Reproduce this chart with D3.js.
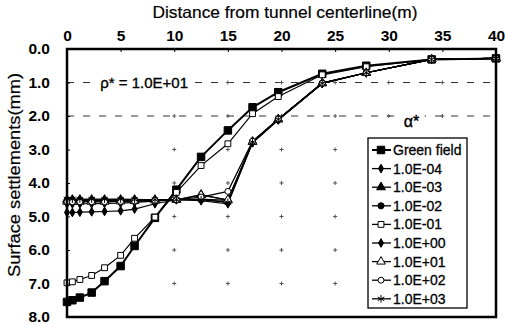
<!DOCTYPE html>
<html><head><meta charset="utf-8">
<script src="https://cdn.jsdelivr.net/npm/d3@7"></script>
<style>body{margin:0;background:#fff}svg{display:block}</style>
</head><body><div id="chart"></div>
<script>
const xValues = [0, 0.5, 1.2, 2.3, 3.5, 5, 6.3, 8.2, 10.2, 12.5, 15, 17.3, 19.7, 23.8, 27.9, 34, 40];
const greenField = [7.55, 7.5, 7.42, 7.27, 6.93, 6.48, 5.88, 5.04, 4.2, 3.22, 2.43, 1.74, 1.29, 0.74, 0.5, 0.31, 0.28];
const s1e_04 = [4.88, 4.88, 4.87, 4.86, 4.85, 4.83, 4.78, 4.62, 4.5, 4.48, 4.52, 2.79, 2.11, 1.03, 0.71, 0.31, 0.28];
const s1e_03 = [4.5, 4.5, 4.5, 4.5, 4.5, 4.5, 4.5, 4.5, 4.5, 4.35, 4.52, 2.77, 2.1, 1.02, 0.71, 0.31, 0.28];
const s1e_02 = [4.52, 4.52, 4.52, 4.52, 4.52, 4.52, 4.52, 4.51, 4.5, 4.5, 4.56, 2.78, 2.1, 1.02, 0.71, 0.31, 0.28];
const s1e_01 = [6.98, 6.95, 6.88, 6.76, 6.53, 6.16, 5.65, 5.02, 4.28, 3.48, 2.83, 1.93, 1.42, 0.77, 0.53, 0.31, 0.28];
const s1e00 = [4.62, 4.62, 4.62, 4.62, 4.61, 4.6, 4.58, 4.54, 4.5, 4.53, 4.62, 2.8, 2.12, 1.03, 0.71, 0.31, 0.28];
const s1e01 = [4.56, 4.56, 4.56, 4.56, 4.56, 4.55, 4.54, 4.52, 4.5, 4.36, 4.5, 2.77, 2.1, 1.02, 0.71, 0.31, 0.28];
const s1e02 = [4.56, 4.56, 4.56, 4.56, 4.56, 4.55, 4.54, 4.52, 4.5, 4.42, 4.25, 2.75, 2.09, 1.02, 0.71, 0.31, 0.28];
const s1e03 = [4.48, 4.48, 4.48, 4.48, 4.48, 4.48, 4.49, 4.5, 4.5, 4.5, 4.58, 2.78, 2.1, 1.02, 0.71, 0.31, 0.28];
const seriesNames = ["Green field", "1.0E-04", "1.0E-03", "1.0E-02", "1.0E-01", "1.0E+00", "1.0E+01", "1.0E+02", "1.0E+03"];
const xTicks = [0, 5, 10, 15, 20, 25, 30, 35, 40];
const yTicks = [0, 1, 2, 3, 4, 5, 6, 7, 8];

const W = 505, H = 325;
const m = {left: 67, right: 9, top: 49, bottom: 8};
const svg = d3.select("#chart").append("svg").attr("width", W).attr("height", H);
const x = d3.scaleLinear().domain([0, 40]).range([m.left, W - m.right]);
const y = d3.scaleLinear().domain([0, 8]).range([m.top, H - m.bottom]);
const font = "Liberation Sans, Arial, sans-serif";

const dataSets = [greenField, s1e_04, s1e_03, s1e_02, s1e_01, s1e00, s1e01, s1e02, s1e03];
const styles = [
  {sym: d3.symbolSquare, size: 56, fill: "#000", w: 2},
  {sym: d3.symbolDiamond, size: 22, fill: "#000", w: 1.2},
  {sym: d3.symbolTriangle, size: 34, fill: "#000", w: 1.2},
  {sym: d3.symbolCircle, size: 30, fill: "#000", w: 1.2},
  {sym: d3.symbolSquare, size: 34, fill: "#fff", w: 1.2},
  {sym: d3.symbolDiamond, size: 22, fill: "#000", w: 1.2},
  {sym: d3.symbolTriangle, size: 32, fill: "#fff", w: 1.2},
  {sym: d3.symbolCircle, size: 28, fill: "#fff", w: 1.2},
  {sym: d3.symbolAsterisk, size: 40, fill: "none", w: 1.2}
];

// grid: dashed lines at 1.0 and 2.0, plus small crosses
const g = svg.append("g");
[1, 2].forEach(v => {
  g.append("line").attr("x1", x(0)).attr("x2", x(40)).attr("y1", y(v)).attr("y2", y(v))
    .attr("stroke", "#333").attr("stroke-width", 1).attr("stroke-dasharray", "7,9");
});
const plusX = [10, 15, 20, 25, 30, 35];
const plusY = [1, 2, 3, 4, 5, 6, 7];
plusX.forEach(px => plusY.forEach(py => {
  g.append("path").attr("d", `M${x(px)-2},${y(py)}h4M${x(px)},${y(py)-2}v4`)
    .attr("stroke", "#555").attr("stroke-width", 1);
}));

// annotations
const ann1 = svg.append("g");
ann1.append("rect").attr("x", x(2.9)).attr("y", y(1) - 8).attr("width", 93).attr("height", 16).attr("fill", "#fff");
ann1.append("text").attr("x", x(3.1)).attr("y", y(1)).attr("dy", "0.35em")
  .attr("font-family", font).attr("font-size", 15).attr("stroke", "#000").attr("stroke-width", 0.35)
  .text("ρ* = 1.0E+01");
const ann2 = svg.append("g");
ann2.append("rect").attr("x", x(31.1)).attr("y", y(2) - 6).attr("width", 24).attr("height", 14).attr("fill", "#fff");
ann2.append("text").attr("x", x(31.4)).attr("y", y(2) + 5).attr("dy", "0.35em")
  .attr("font-family", font).attr("font-size", 16).attr("stroke", "#000").attr("stroke-width", 0.4)
  .text("α*");

// series
const line = d3.line().x((d, i) => x(xValues[i])).y(d => y(d));
dataSets.forEach((ds, k) => {
  const st = styles[k];
  svg.append("path").datum(ds).attr("d", line).attr("fill", "none")
    .attr("stroke", "#000").attr("stroke-width", st.w);
});
dataSets.forEach((ds, k) => {
  const st = styles[k];
  svg.append("g").selectAll("path").data(ds).join("path")
    .attr("transform", (d, i) => `translate(${x(xValues[i])},${y(d)})`)
    .attr("d", d3.symbol(st.sym, st.size))
    .attr("fill", st.fill).attr("stroke", "#000").attr("stroke-width", 1);
});

// frame
svg.append("rect").attr("x", x(0)).attr("y", y(0)).attr("width", x(40) - x(0)).attr("height", y(8) - y(0))
  .attr("fill", "none").attr("stroke", "#000").attr("stroke-width", 2.5);

// axes
const xAxis = svg.append("g").attr("transform", `translate(0,${y(0)})`)
  .call(d3.axisTop(x).tickValues(xTicks).tickSize(-3).tickPadding(8).tickFormat(d3.format("d")));
const yAxis = svg.append("g").attr("transform", `translate(${x(0)},0)`)
  .call(d3.axisLeft(y).tickValues(yTicks).tickSize(-3).tickPadding(17).tickFormat(d3.format(".1f")));
[xAxis, yAxis].forEach(a => {
  a.select(".domain").remove();
  a.selectAll("line").attr("stroke", "#000");
  a.selectAll("text").attr("font-family", font).attr("font-size", 15.5).attr("font-weight", "bold").attr("fill", "#000");
});

svg.append("text").attr("x", 285).attr("y", 18).attr("text-anchor", "middle")
  .attr("font-family", font).attr("font-size", 16.5).attr("textLength", 265).attr("lengthAdjust", "spacingAndGlyphs")
  .attr("stroke", "#000").attr("stroke-width", 0.2)
  .text("Distance from tunnel centerline(m)");
svg.append("text").attr("transform", "translate(20,175) rotate(-90)").attr("text-anchor", "middle")
  .attr("font-family", font).attr("font-size", 16.5).attr("textLength", 204).attr("lengthAdjust", "spacingAndGlyphs")
  .attr("stroke", "#000").attr("stroke-width", 0.2)
  .text("Surface settlements(mm)");

// legend
const lg = svg.append("g");
const lx = 368, ly = 138, lw = 99, lh = 170, rowH = 18.6;
lg.append("rect").attr("x", lx).attr("y", ly).attr("width", lw).attr("height", lh)
  .attr("fill", "#fff").attr("stroke", "#000").attr("stroke-width", 1.3);
seriesNames.forEach((name, k) => {
  const st = styles[k];
  const cy = ly + 12 + k * rowH;
  lg.append("line").attr("x1", lx + 4).attr("x2", lx + 23).attr("y1", cy).attr("y2", cy)
    .attr("stroke", "#000").attr("stroke-width", k === 0 ? 2 : 1.3);
  lg.append("path").attr("transform", `translate(${lx + 13},${cy})`).attr("d", d3.symbol(st.sym, st.size))
    .attr("fill", st.fill).attr("stroke", "#000").attr("stroke-width", 1);
  lg.append("text").attr("x", lx + 25).attr("y", cy).attr("dy", "0.35em")
    .attr("font-family", font).attr("font-size", 14).attr("stroke", "#000").attr("stroke-width", 0.3).text(name);
});
</script>
</body></html>
